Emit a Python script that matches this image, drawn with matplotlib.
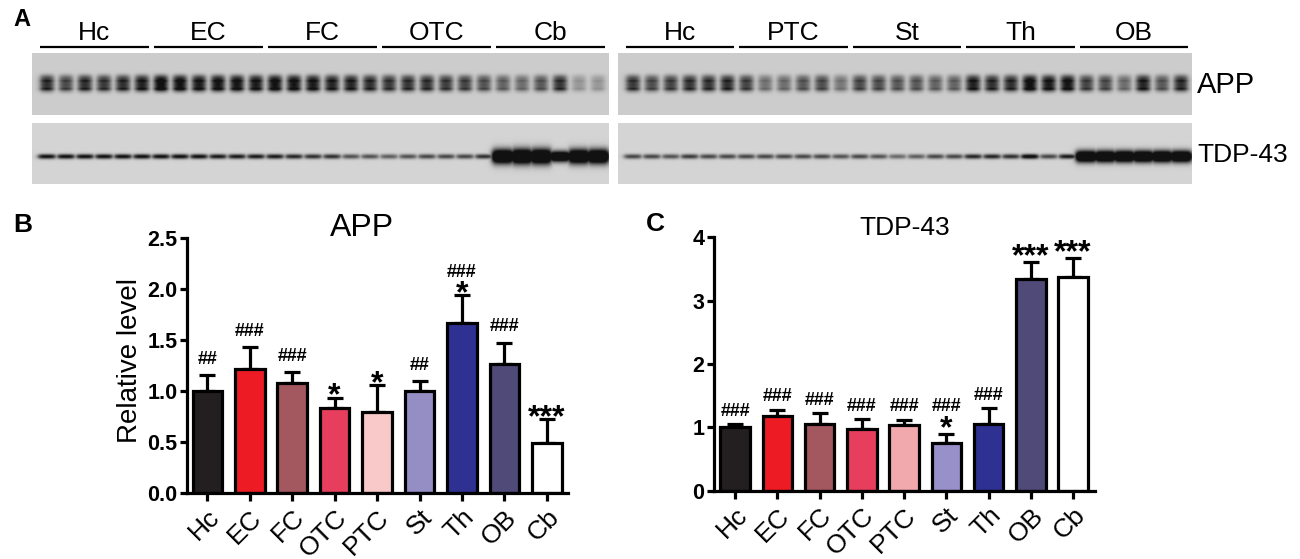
import numpy as np
import matplotlib.pyplot as plt

plt.rcParams['font.family'] = ['Liberation Sans', 'DejaVu Sans']

W, H = 1300, 559

# ---- data -----------------------------------------------------------------
regions = ['Hc', 'EC', 'FC', 'OTC', 'PTC', 'St', 'Th', 'OB', 'Cb']

app_mean = [1.00, 1.22, 1.08, 0.83, 0.79, 1.00, 1.67, 1.26, 0.49]
app_err = [0.155, 0.21, 0.105, 0.105, 0.265, 0.10, 0.27, 0.215, 0.23]
app_hash = ['##', '###', '###', '', '', '##', '###', '###', '']
app_star = ['', '', '', '*', '*', '', '*', '', '***']

tdp_mean = [1.01, 1.18, 1.05, 0.98, 1.03, 0.76, 1.06, 3.34, 3.37]
tdp_err = [0.04, 0.10, 0.17, 0.15, 0.09, 0.13, 0.24, 0.27, 0.30]
tdp_hash = ['###', '###', '###', '###', '###', '###', '###', '', '']
tdp_star = ['', '', '', '', '', '*', '', '***', '***']

app_colors = ['#231f20', '#ed1c24', '#a3575f', '#e63e5c', '#f9c9ca',
              '#958ec4', '#2e3192', '#4f4a77', '#ffffff']
tdp_colors = ['#231f20', '#ed1c24', '#a3575f', '#e63e5c', '#f2a9ae',
              '#9890c8', '#2e3192', '#4f4a77', '#ffffff']

# western blot, band darkness per lane (6 lanes per region)
blot_left_groups = ['Hc', 'EC', 'FC', 'OTC', 'Cb']
blot_right_groups = ['Hc', 'PTC', 'St', 'Th', 'OB']

app_left = [0.75, 0.62, 0.75, 0.70, 0.75, 0.82,
            0.95, 0.90, 0.85, 0.88, 0.88, 0.85,
            0.90, 0.88, 0.85, 0.80, 0.80, 0.75,
            0.70, 0.72, 0.72, 0.68, 0.65, 0.58,
            0.50, 0.45, 0.55, 0.72, 0.25, 0.25]
app_right = [0.70, 0.60, 0.65, 0.72, 0.72, 0.75,
             0.65, 0.42, 0.45, 0.55, 0.60, 0.40,
             0.62, 0.60, 0.55, 0.55, 0.50, 0.50,
             0.82, 0.75, 0.75, 0.92, 0.85, 0.88,
             0.65, 0.60, 0.45, 0.80, 0.55, 0.75]
tdp_left = [0.85, 0.85, 0.85, 0.85, 0.85, 0.85,
            0.85, 0.85, 0.85, 0.80, 0.80, 0.80,
            0.80, 0.75, 0.70, 0.70, 0.55, 0.55,
            0.50, 0.55, 0.60, 0.60, 0.60, 0.70,
            1.00, 1.00, 1.00, 0.95, 1.00, 1.00]
tdp_right = [0.60, 0.60, 0.55, 0.65, 0.60, 0.60,
             0.60, 0.60, 0.60, 0.60, 0.60, 0.55,
             0.60, 0.55, 0.45, 0.50, 0.60, 0.60,
             0.75, 0.75, 0.70, 0.95, 0.60, 0.80,
             1.00, 1.00, 1.00, 1.00, 1.00, 1.00]
tdp_thick_left = [1] * 24 + [3.0, 3.2, 3.2, 2.2, 3.0, 3.0]
tdp_thick_right = [1] * 24 + [2.4, 2.4, 2.4, 2.4, 2.4, 2.4]


def strip_image(x0, x1, y0, y1, dark, kind, thick=None, bg=0.80):
    """Build a grey blot strip (2 samples per pixel)."""
    xs = np.arange(x0, x1, 0.5) + 0.25
    ys = np.arange(y0, y1, 0.5) + 0.25
    X, Y = np.meshgrid(xs, ys)
    centers = np.linspace(x0 + 15, x1 - 11, len(dark))
    ink = np.zeros_like(X)
    for i, (cx, d) in enumerate(zip(centers, dark)):
        if kind == 'app':
            hx = 1 / (1 + np.exp((np.abs(X - cx) - 6.4) / 1.6))
            vy = np.maximum.reduce([0.85 * np.exp(-((Y - 83.5) / 8.5) ** 4),
                                    np.exp(-((Y - 81) / 3.0) ** 2),
                                    np.exp(-((Y - 88.5) / 2.8) ** 2)])
            ink = np.maximum(ink, d * hx * vy * 1.35)
        else:
            t = thick[i]
            hw = 8.5 if t == 1 else 10.5
            hx = 1 / (1 + np.exp((np.abs(X - cx) - hw) / 1.5))
            vy = np.exp(-((Y - 156.5) / (2.4 * t)) ** 2)
            ink = np.maximum(ink, d * hx * vy * (1.25 if t == 1 else 1.8))
    ink = np.clip(ink, 0, 1)
    return bg - (bg - 0.07) * ink


fig = plt.figure(figsize=(W / 100, H / 100), dpi=100)

# ---- panel A (blot) drawn in figure pixel coordinates ---------------------
ov = fig.add_axes([0, 0, 1, 1])
ov.set_axis_off()

strips = [(32, 609, blot_left_groups, app_left, tdp_left, tdp_thick_left),
          (618, 1192, blot_right_groups, app_right, tdp_right, tdp_thick_right)]
for x0, x1, groups, app, tdp, thick in strips:
    img = strip_image(x0, x1, 53, 115, app, 'app', bg=0.80)
    ov.imshow(img, cmap='gray', vmin=0, vmax=1, extent=(x0, x1, 115, 53),
              aspect='auto', interpolation='bilinear')
    img = strip_image(x0, x1, 123, 184, tdp, 'tdp', thick, bg=0.83)
    ov.imshow(img, cmap='gray', vmin=0, vmax=1, extent=(x0, x1, 184, 123),
              aspect='auto', interpolation='bilinear')
    centers = np.linspace(x0 + 15, x1 - 11, len(app))
    for g, name in enumerate(groups):
        a, b = centers[6 * g] - 7, centers[6 * g + 5] + 7
        ov.plot([a, b], [47, 47], color='black', lw=1.6, solid_capstyle='butt')
        ov.text((a + b) / 2, 40, name, ha='center', va='baseline', fontsize=19)

ov.text(1197, 85, 'APP', ha='left', va='center', fontsize=21)
ov.text(1197, 155, 'TDP-43', ha='left', va='center', fontsize=19)
ov.text(22, 20, 'A', ha='center', va='center', fontsize=17, fontweight='bold')
ov.text(23, 225, 'B', ha='center', va='center', fontsize=19, fontweight='bold')
ov.text(655, 224, 'C', ha='center', va='center', fontsize=19, fontweight='bold')
ov.set_xlim(0, W)
ov.set_ylim(H, 0)


# ---- bar panels -----------------------------------------------------------
def px_axes(left, right, bottom, top):
    return fig.add_axes([left / W, 1 - bottom / H, (right - left) / W, (bottom - top) / H])


def bar_panel(ax, mean, err, colors, hashes, stars, star_off, hash_off, hash_star_off):
    x = np.arange(len(mean))
    ax.errorbar(x, mean, yerr=[np.zeros(len(err)), err], fmt='none', ecolor='black',
                elinewidth=2.3, capsize=6, capthick=2.3, zorder=1, clip_on=False)
    ax.bar(x, mean, width=0.7, color=colors, edgecolor='black', linewidth=2.3, zorder=2)
    for i in x:
        top = mean[i] + err[i]
        if stars[i]:
            ax.annotate(stars[i], xy=(i, top), xytext=(0, star_off), textcoords='offset points',
                        ha='center', va='baseline', fontsize=23, fontweight='bold',
                        annotation_clip=False)
        if hashes[i]:
            off = hash_star_off if stars[i] else hash_off
            ax.annotate(hashes[i], xy=(i, top), xytext=(0, off), textcoords='offset points',
                        ha='center', va='baseline', fontsize=13, fontweight='bold',
                        annotation_clip=False)
    for side in ['top', 'right']:
        ax.spines[side].set_visible(False)
    for side in ['left', 'bottom']:
        ax.spines[side].set_linewidth(2.3)
    ax.set_xticks(x)
    ax.set_xticklabels(regions, rotation=45, ha='right', rotation_mode='anchor', fontsize=19)
    ax.tick_params(axis='x', length=6, width=2.3, pad=3)
    ax.tick_params(axis='y', length=5, width=2.3, pad=2, labelsize=15.5)
    ax.patch.set_visible(False)


axB = px_axes(187, 568, 492.7, 238.3)
bar_panel(axB, app_mean, app_err, app_colors, app_hash, app_star, -5, 8, 13)
axB.set_xlim(-0.48, 8.5)
axB.set_ylim(0, 2.5)
axB.set_yticks([0, 0.5, 1.0, 1.5, 2.0, 2.5])
axB.set_yticklabels(['0.0', '0.5', '1.0', '1.5', '2.0', '2.5'], fontweight='bold')
axB.set_ylabel('Relative level', fontsize=20)
axB.yaxis.set_label_coords(-0.115, 0.52)
axB.text(0.46, 1.04, 'APP', transform=axB.transAxes, ha='center', va='center', fontsize=23)

axC = px_axes(714, 1095, 490.7, 237.3)
bar_panel(axC, tdp_mean, tdp_err, tdp_colors, tdp_hash, tdp_star, -2, 6, 17)
axC.set_xlim(-0.5, 8.52)
axC.set_ylim(0, 4)
axC.set_yticks([0, 1, 2, 3, 4])
axC.set_yticklabels(['0', '1', '2', '3', '4'], fontweight='bold')
axC.text(0.50, 1.037, 'TDP-43', transform=axC.transAxes, ha='center', va='center', fontsize=19)

fig.savefig('out.png', dpi=100)
